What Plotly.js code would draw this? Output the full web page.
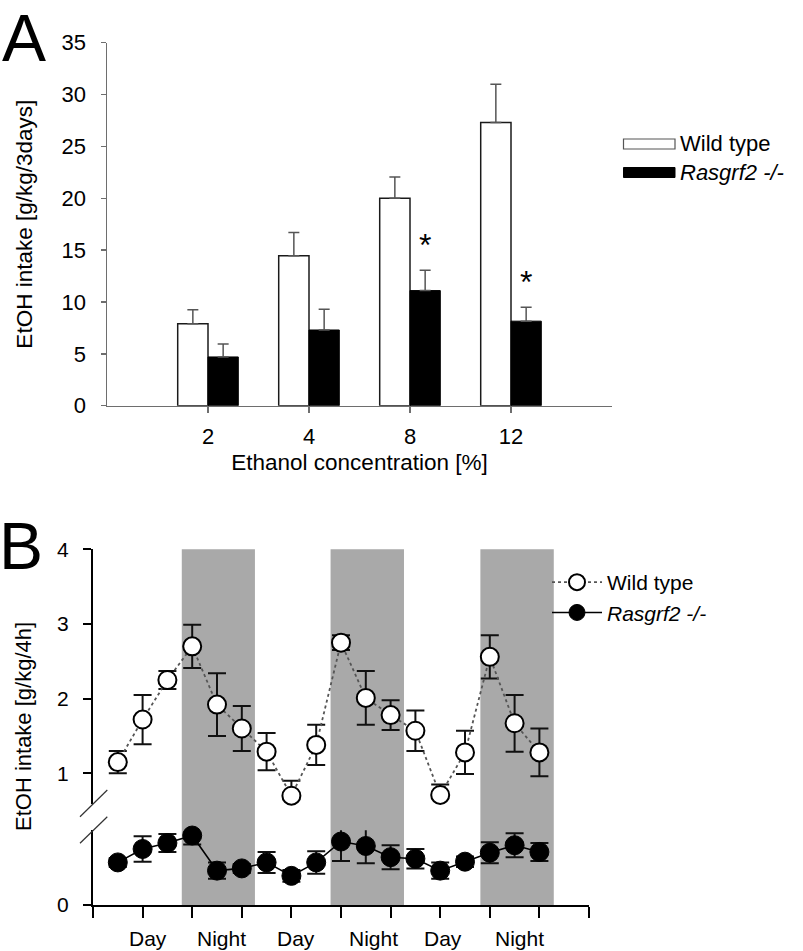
<!DOCTYPE html>
<html>
<head>
<meta charset="utf-8">
<script src="https://cdn.plot.ly/plotly-3.0.1.min.js"></script>
<style>html,body{margin:0;padding:0;background:#fff;}#chart{width:803px;height:951px;}</style>
</head>
<body>
<div id="chart"></div>
<script>
// ---------- Panel A data ----------
var concentrations = ['2', '4', '8', '12'];
var wtIntake = [7.9, 14.45, 20.0, 27.3];
var wtIntakeSem = [1.35, 2.25, 2.05, 3.7];
var koIntake = [4.7, 7.3, 11.1, 8.15];
var koIntakeSem = [1.25, 2.0, 1.95, 1.35];
var significant = ['8', '12'];

// ---------- Panel B data (4-h bins) ----------
var bins = [1, 2, 3, 4, 5, 6, 7, 8, 9, 10, 11, 12, 13, 14, 15, 16, 17, 18];
var wtHourly = [1.15, 1.72, 2.25, 2.70, 1.92, 1.60, 1.29, 0.70, 1.38, 2.75, 2.01, 1.78, 1.57, 0.71, 1.28, 2.56, 1.67, 1.28];
var wtHourlySem = [0.15, 0.33, 0.12, 0.29, 0.42, 0.30, 0.25, 0.20, 0.27, 0.10, 0.36, 0.20, 0.27, 0.14, 0.29, 0.29, 0.38, 0.32];
var koHourly = [0.57, 0.75, 0.83, 0.93, 0.46, 0.49, 0.57, 0.39, 0.57, 0.85, 0.79, 0.64, 0.62, 0.46, 0.58, 0.70, 0.80, 0.71];
var koHourlySem = [0.06, 0.17, 0.12, 0.12, 0.11, 0.06, 0.14, 0.08, 0.15, 0.26, 0.23, 0.16, 0.13, 0.11, 0.07, 0.14, 0.16, 0.12];
var nightStart = [3.58, 9.58, 15.62];
var nightEnd = [6.53, 12.54, 18.58];
var phaseLabels = ['Day', 'Night', 'Day', 'Night', 'Day', 'Night'];
var phaseLabelPos = [2.2, 5.2, 8.2, 11.3, 14.1, 17.2];
var bTicks = [0, 2, 4, 6, 8, 10, 12, 14, 16, 18, 20];

var W = 803, H = 951;
function px(x) { return x / W; }
function py(y) { return 1 - y / H; }
var FONT = 'Liberation Sans, Arial, sans-serif';
var gA = '#6e6e6e';

var traces = [
  {
    type: 'bar', x: concentrations, y: wtIntake, name: 'Wild type',
    xaxis: 'x', yaxis: 'y', showlegend: false,
    marker: {color: '#ffffff', line: {color: '#1a1a1a', width: 1.5}},
    error_y: {type: 'data', symmetric: false, array: wtIntakeSem, arrayminus: wtIntakeSem.map(function () { return 0; }),
              color: '#555', thickness: 1.5, width: 5.5}
  },
  {
    type: 'bar', x: concentrations, y: koIntake, name: '<i>Rasgrf2 -/-</i>',
    xaxis: 'x', yaxis: 'y', showlegend: false,
    marker: {color: '#000000', line: {color: '#000', width: 1}},
    error_y: {type: 'data', symmetric: false, array: koIntakeSem, arrayminus: koIntakeSem.map(function () { return 0; }),
              color: '#555', thickness: 1.5, width: 5.5}
  },
  {
    type: 'scatter', mode: 'lines+markers', x: bins, y: wtHourly, name: 'Wild type',
    xaxis: 'x2', yaxis: 'y4', legend: 'legend2', cliponaxis: false,
    line: {color: '#555', width: 1.8, dash: 'dot'},
    marker: {size: 18, color: '#ffffff', line: {color: '#000', width: 2}},
    error_y: {type: 'data', array: wtHourlySem, color: '#111', thickness: 2, width: 9}
  },
  {
    type: 'scatter', mode: 'lines+markers', x: bins, y: koHourly, name: '<i>Rasgrf2 -/-</i>',
    xaxis: 'x2', yaxis: 'y3', legend: 'legend2', cliponaxis: false,
    line: {color: '#000', width: 1.6},
    marker: {size: 19, color: '#000', line: {color: '#000', width: 1}},
    error_y: {type: 'data', array: koHourlySem, color: '#111', thickness: 2, width: 9}
  }
];

var shapes = [];
for (var i = 0; i < nightStart.length; i++) {
  shapes.push({type: 'rect', xref: 'x2', yref: 'paper', x0: nightStart[i], x1: nightEnd[i],
               y0: py(905), y1: py(549.3), fillcolor: '#a9a9a9', line: {width: 0}, layer: 'below'});
}
// axis break marks
shapes.push({type: 'line', xref: 'paper', yref: 'paper', x0: px(80), y0: py(816.7), x1: px(107.3), y1: py(790), line: {color: '#333', width: 1.2}});
shapes.push({type: 'line', xref: 'paper', yref: 'paper', x0: px(80), y0: py(843.3), x1: px(107.3), y1: py(816.7), line: {color: '#333', width: 1.2}});
// panel A legend swatches
shapes.push({type: 'rect', xref: 'paper', yref: 'paper', x0: px(623.5), x1: px(675), y0: py(149), y1: py(139), fillcolor: '#fff', line: {color: '#555', width: 1.2}});
shapes.push({type: 'rect', xref: 'paper', yref: 'paper', x0: px(623.5), x1: px(675), y0: py(177.5), y1: py(167.5), fillcolor: '#000', line: {color: '#000', width: 1}});

var annotations = [
  {text: 'A', xref: 'paper', yref: 'paper', x: px(0), y: py(-1), xanchor: 'left', yanchor: 'top', showarrow: false, font: {family: FONT, size: 66, color: '#000'}},
  {text: 'B', xref: 'paper', yref: 'paper', x: px(-3), y: py(507), xanchor: 'left', yanchor: 'top', showarrow: false, font: {family: FONT, size: 66, color: '#000'}},
  {text: 'Wild type', xref: 'paper', yref: 'paper', x: px(678), y: py(144), xanchor: 'left', yanchor: 'middle', showarrow: false, font: {family: FONT, size: 22, color: '#000'}},
  {text: '<i>Rasgrf2 -/-</i>', xref: 'paper', yref: 'paper', x: px(678), y: py(173), xanchor: 'left', yanchor: 'middle', showarrow: false, font: {family: FONT, size: 22, color: '#000'}},
  {text: 'EtOH intake [g/kg/4h]', xref: 'paper', yref: 'paper', x: px(23), y: py(727), xanchor: 'center', yanchor: 'middle', textangle: -90, showarrow: false, font: {family: FONT, size: 22, color: '#000'}}
];
for (var j = 0; j < significant.length; j++) {
  var k = concentrations.indexOf(significant[j]);
  annotations.push({text: '*', xref: 'x', yref: 'y', x: k, y: koIntake[k] + koIntakeSem[k],
                    xshift: 15, yshift: 5, xanchor: 'center', yanchor: 'bottom', showarrow: false,
                    font: {family: FONT, size: 32, color: '#000'}});
}
for (var m = 0; m < phaseLabels.length; m++) {
  annotations.push({text: phaseLabels[m], xref: 'x2', yref: 'paper', x: phaseLabelPos[m], y: py(938),
                    xanchor: 'center', yanchor: 'middle', showarrow: false, font: {family: FONT, size: 21, color: '#000'}});
}

var layout = {
  width: W, height: H,
  margin: {l: 0, r: 0, t: 0, b: 0},
  paper_bgcolor: '#fff', plot_bgcolor: 'rgba(0,0,0,0)',
  font: {family: FONT, size: 22, color: '#000'},
  barmode: 'group', bargap: 0.4, bargroupgap: 0,
  showlegend: true,
  xaxis: {
    domain: [px(107), px(612)], anchor: 'y', type: 'category', range: [-1, 4],
    showline: true, linecolor: gA, linewidth: 1.5, ticks: 'outside', ticklen: 6, tickcolor: gA, tickwidth: 1.5,
    showgrid: false, zeroline: false, tickfont: {size: 22}, ticklabelstandoff: 4,
    title: {text: 'Ethanol concentration [%]', font: {size: 22.5}, standoff: 6}, automargin: false, fixedrange: true
  },
  yaxis: {
    domain: [py(405.7), py(42.7)], anchor: 'x', range: [0, 35], dtick: 5,
    showline: true, linecolor: gA, linewidth: 1.5, ticks: 'outside', ticklen: 5, tickcolor: gA, tickwidth: 1.5,
    showgrid: false, zeroline: false, tickfont: {size: 22}, ticklabelstandoff: 10,
    title: {text: 'EtOH intake [g/kg/3days]', font: {size: 22.5}, standoff: 22}, automargin: false, fixedrange: true
  },
  xaxis2: {
    domain: [px(93), px(589)], anchor: 'y3', range: [0, 20], tickvals: bTicks, showticklabels: false,
    showline: true, linecolor: '#000', linewidth: 2, ticks: 'outside', ticklen: 11, tickcolor: '#000', tickwidth: 2,
    showgrid: false, zeroline: false, automargin: false, fixedrange: true
  },
  yaxis3: {
    domain: [py(905), py(830.3)], anchor: 'x2', range: [0, 1], tickvals: [0],
    showline: true, linecolor: '#000', linewidth: 2, ticks: 'outside', ticklen: 8, tickcolor: '#000', tickwidth: 2,
    showgrid: false, zeroline: false, tickfont: {size: 21}, ticklabelstandoff: 10, automargin: false, fixedrange: true
  },
  yaxis4: {
    domain: [py(803.7), py(549.3)], anchor: 'x2', range: [0.593, 4], tickvals: [1, 2, 3, 4],
    showline: true, linecolor: '#000', linewidth: 2, ticks: 'outside', ticklen: 8, tickcolor: '#000', tickwidth: 2,
    showgrid: false, zeroline: false, tickfont: {size: 21}, ticklabelstandoff: 10, automargin: false, fixedrange: true
  },
  legend2: {
    x: px(547), y: py(562), xanchor: 'left', yanchor: 'top',
    bgcolor: 'rgba(0,0,0,0)', borderwidth: 0, itemwidth: 50, tracegroupgap: 0,
    font: {family: FONT, size: 21, color: '#000'}
  },
  shapes: shapes,
  annotations: annotations
};

Plotly.newPlot('chart', traces, layout, {staticPlot: true, displayModeBar: false});
</script>
</body>
</html>
